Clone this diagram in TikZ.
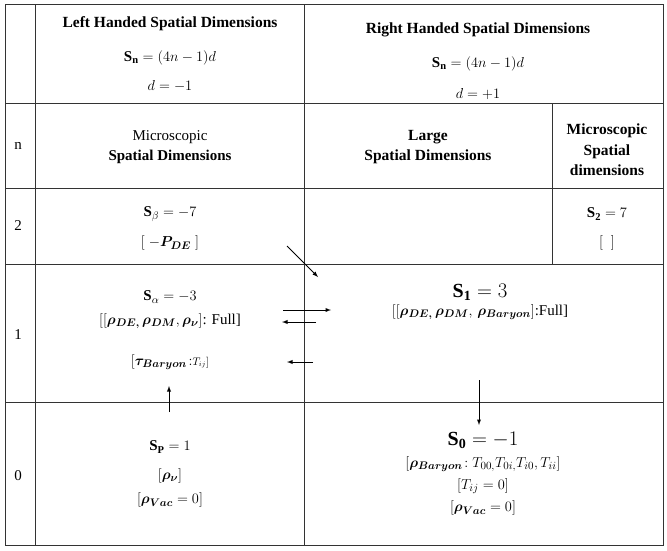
\documentclass[tikz,border=0pt]{standalone}
\usepackage{amsmath,bm}
\usepackage{fontspec}
\setmainfont{Liberation Serif}
\begin{document}
\begin{tikzpicture}[x=1pt,y=-1pt,
  t/.style={align=center,font=\fontsize{15}{20}\selectfont,inner sep=1pt},
  tb/.style={t,font=\fontsize{15.5}{20.5}\selectfont\bfseries},
  big/.style={t,font=\fontsize{20}{22}\selectfont},
  ar/.style={-latex,line width=0.9pt},
  ln/.style={line width=0.6pt,draw=black!80}]
\useasboundingbox (0,0) rectangle (667,550);
\draw[ln] (5,4) rectangle (663,545);
\draw[ln] (35,4) -- (35,545);
\draw[ln] (304,4) -- (304,545);
\draw[ln] (552,103) -- (552,264);
\foreach \y in {103,188,264,402} \draw[ln] (5,\y) -- (663,\y);
% header
\node[tb] (lh) at (170,24) {Left Handed Spatial Dimensions};
\node[t] (lsn) at (170,58) {$\mathbf{S_n}=(4n-1)d$};
\node[t] (ld) at (170,86) {$d=-1$};
\node[tb] (rh) at (478,30) {Right Handed Spatial Dimensions};
\node[t] (rsn) at (478,64) {$\mathbf{S_n}=(4n-1)d$};
\node[t] (rd) at (478,94) {$d=+1$};
% row n
\node[t] (n) at (18,146) {n};
\node[t] (ms) at (170,147) {Microscopic\\ \textbf{Spatial Dimensions}};
\node[tb] (ls) at (428,147) {Large\\ Spatial Dimensions};
\node[tb] (ms2) at (607,150) {Microscopic\\ Spatial\\ dimensions};
% row 2
\node[t] (r2) at (18,226) {2};
\node[t] (sb) at (170,214) {$\mathbf{S_\beta}=-7$};
\node[t] (pde) at (170,243) {$[\;-\bm{P_{DE}}\;]$};
\node[t] (s2) at (607,214) {$\mathbf{S_2}=7$};
\node[t] (e2) at (607,243) {$[\;\;]$};
% row 1
\node[t] (r1) at (18,335) {1};
\node[t] (sa) at (170,297) {$\mathbf{S_\alpha}=-3$};
\node[t] (rl) at (170,321) {$[[\bm{\rho_{DE,}}\,\bm{\rho_{DM}},\bm{\rho_{\nu}}]$: Full]};
\node[t] (tau) at (170,362) {$[\bm{\tau_{Baryon}}\!:\scriptstyle T_{ij}]$};
\node[big] (s1) at (480,292) {$\mathbf{S_1}=3$};
\node[t] (rr) at (480,312) {$[[\bm{\rho_{DE,}}\,\bm{\rho_{DM}},\,\bm{\rho_{Baryon}}]$:Full]};
% row 0
\node[t] (r0) at (18,476) {0};
\node[t] (sp) at (170,447) {$\mathbf{S_P}=1$};
\node[t] (rn) at (170,476) {$[\bm{\rho_\nu}]$};
\node[t] (rv) at (170,500) {$[\bm{\rho_{Vac}}=0]$};
\node[big] (s0) at (483,440) {$\mathbf{S_0}=-1$};
\node[t] (rb) at (483,464) {$[\bm{\rho_{Baryon}}\!:T_{00,}T_{0i,}T_{i0},T_{ii}]$};
\node[t] (tij) at (483,486) {$[T_{ij}=0]$};
\node[t] (rv2) at (483,508) {$[\bm{\rho_{Vac}}=0]$};
% arrows
\coordinate (d1) at (287,246); \coordinate (d2) at (318,277);
\draw[ar] (d1) -- (d2);
\coordinate (a1) at (283,310); \coordinate (a2) at (331,310);
\draw[ar] (a1) -- (a2);
\coordinate (b1) at (316,322); \coordinate (b2) at (282,322);
\draw[ar] (b1) -- (b2);
\coordinate (c1) at (313,362); \coordinate (c2) at (287,362);
\draw[ar] (c1) -- (c2);
\coordinate (u1) at (169,412); \coordinate (u2) at (169,386);
\draw[ar] (u1) -- (u2);
\coordinate (w1) at (479,380); \coordinate (w2) at (479,425);
\draw[ar] (w1) -- (w2);
\end{tikzpicture}
\end{document}
